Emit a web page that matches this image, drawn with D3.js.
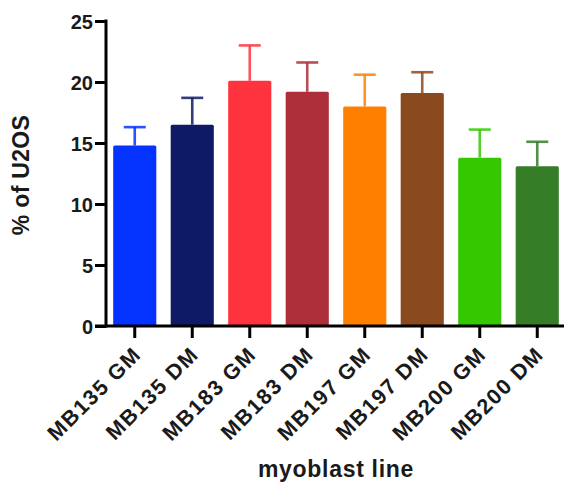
<!DOCTYPE html>
<html>
<head>
<meta charset="utf-8">
<script src="https://cdn.jsdelivr.net/npm/d3@7"></script>
<style>
  body { margin: 0; background: #fff; }
  svg text { font-family: "Liberation Sans", Arial, Helvetica, sans-serif; font-weight: bold; fill: #1a1a1a; }
</style>
</head>
<body>
<svg id="chart" width="564" height="482"></svg>
<script>
// Percentage of U2OS per myoblast line (mean + SEM)
const categories = ["MB135 GM", "MB135 DM", "MB183 GM", "MB183 DM", "MB197 GM", "MB197 DM", "MB200 GM", "MB200 DM"];
const means = [14.8, 16.5, 20.1, 19.2, 18.0, 19.1, 13.8, 13.1];
const errors = [1.5, 2.2, 2.9, 2.4, 2.6, 1.7, 2.3, 2.0];
const colors = ["#0433ff", "#0f1a66", "#ff333d", "#ae2e3a", "#ff8000", "#8b4a1e", "#33c800", "#357d27"];
const yTicks = [0, 5, 10, 15, 20, 25];

const svg = d3.select("#chart");
const plotLeft = 106, plotRight = 566, plotTop = 21, plotBottom = 326;

const x = d3.scaleBand().domain(categories).range([plotLeft, plotRight]).paddingInner(0.25).paddingOuter(0.125);
const y = d3.scaleLinear().domain([0, 25]).range([plotBottom, plotTop]);

// bars
svg.append("g").selectAll("rect").data(categories).join("rect")
  .attr("x", d => x(d))
  .attr("y", (d, i) => y(means[i]))
  .attr("width", x.bandwidth())
  .attr("height", (d, i) => plotBottom - y(means[i]))
  .attr("rx", 1.5)
  .attr("fill", (d, i) => colors[i]);

// upper error bars
const eb = svg.append("g").selectAll("g").data(categories).join("g")
  .attr("stroke", (d, i) => colors[i])
  .attr("stroke-width", 2.6)
  .attr("stroke-opacity", 0.85);
eb.append("line")
  .attr("x1", d => x(d) + x.bandwidth() / 2).attr("x2", d => x(d) + x.bandwidth() / 2)
  .attr("y1", (d, i) => y(means[i])).attr("y2", (d, i) => y(means[i] + errors[i]));
eb.append("line")
  .attr("x1", d => x(d) + x.bandwidth() / 2 - 11).attr("x2", d => x(d) + x.bandwidth() / 2 + 11)
  .attr("y1", (d, i) => y(means[i] + errors[i])).attr("y2", (d, i) => y(means[i] + errors[i]));

// y axis
const yAxis = svg.append("g").attr("transform", `translate(${plotLeft},0)`)
  .call(d3.axisLeft(y).tickValues(yTicks).tickSize(11).tickSizeOuter(0).tickPadding(2));
yAxis.select(".domain").attr("stroke", "#000").attr("stroke-width", 3)
  .attr("d", `M0,${plotTop - 1.5}V${plotBottom + 1.5}`);
yAxis.selectAll(".tick line").attr("stroke", "#000").attr("stroke-width", 3);
yAxis.selectAll(".tick text").attr("font-size", 20).attr("dy", "0.36em");

// x axis
const xAxis = svg.append("g").attr("transform", `translate(0,${plotBottom})`)
  .call(d3.axisBottom(x).tickSize(12).tickSizeOuter(0).tickPadding(4));
xAxis.select(".domain").attr("stroke", "#000").attr("stroke-width", 3)
  .attr("d", `M${plotLeft - 11},0H${plotRight}`);
xAxis.selectAll(".tick line").attr("stroke", "#000").attr("stroke-width", 3);
xAxis.selectAll(".tick text")
  .attr("font-size", 21.5)
  .attr("letter-spacing", 1.5)
  .attr("text-anchor", "end")
  .attr("dy", "0.71em")
  .attr("transform", "translate(-3,19) rotate(-45)")
  .attr("x", 0).attr("y", 0);

// axis titles
svg.append("text")
  .attr("transform", `translate(29,175) rotate(-90)`)
  .attr("text-anchor", "middle")
  .attr("font-size", 23)
  .attr("letter-spacing", 0.3)
  .text("% of U2OS");
svg.append("text")
  .attr("x", 336).attr("y", 477)
  .attr("text-anchor", "middle")
  .attr("font-size", 23)
  .attr("letter-spacing", 0.7)
  .text("myoblast line");
</script>
</body>
</html>
